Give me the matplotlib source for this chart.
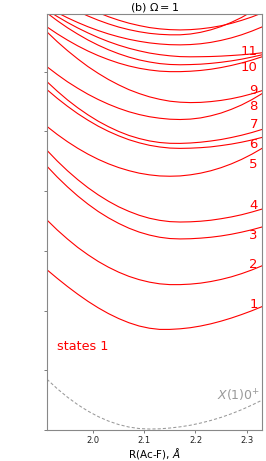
import matplotlib
matplotlib.use("Agg")
import matplotlib.pyplot as plt

# R(Ac-F) grid (Angstrom)
R = [1.91, 1.93, 1.95, 1.97, 1.99, 2.01, 2.03, 2.05, 2.07, 2.09, 2.11,
     2.13, 2.15, 2.17, 2.19, 2.21, 2.23, 2.25, 2.27, 2.29, 2.31, 2.33]

# energies (arbitrary units, tick spacing = 60)
ground_X = [51.0, 41.5, 33.0, 25.5, 19.0, 13.5, 9.0, 5.5, 3.0, 1.5, 1.0,
            1.2, 2.0, 3.2, 4.8, 7.0, 9.6, 12.7, 16.3, 20.4, 25.0, 30.0]
state_1 = [161.0, 152.4, 144.2, 136.5, 129.3, 122.8, 117.0, 112.0, 107.8, 104.5, 102.3,
           101.1, 101.1, 101.7, 102.8, 104.5, 106.7, 109.4, 112.5, 116.0, 119.8, 124.0]
state_2 = [211.0, 201.0, 191.9, 183.5, 176.1, 169.4, 163.6, 158.6, 154.4, 151.1, 148.6,
           146.9, 146.1, 146.1, 146.6, 147.6, 149.2, 151.3, 153.9, 157.1, 160.8, 165.0]
state_3 = [265.0, 254.2, 244.3, 235.2, 227.0, 219.6, 213.2, 207.6, 202.8, 198.9, 195.9,
           193.7, 192.4, 192.0, 192.2, 192.8, 193.7, 195.0, 196.7, 198.8, 201.2, 204.0]
state_4 = [281.0, 270.3, 260.5, 251.6, 243.5, 236.3, 229.9, 224.3, 219.7, 215.8, 212.8,
           210.7, 209.4, 209.0, 209.2, 209.8, 210.8, 212.3, 214.1, 216.3, 219.0, 222.0]
state_5 = [305.0, 297.0, 289.7, 283.1, 277.2, 272.0, 267.5, 263.7, 260.6, 258.1, 256.4,
           255.3, 255.0, 255.3, 256.4, 258.1, 260.5, 263.6, 267.4, 271.9, 277.1, 283.0]
state_6 = [342.0, 333.3, 325.3, 317.9, 311.3, 305.3, 300.1, 295.6, 291.7, 288.6, 286.1,
           284.4, 283.3, 283.0, 283.2, 283.7, 284.5, 285.8, 287.3, 289.2, 291.4, 294.0]
state_7 = [350.0, 340.5, 331.7, 323.8, 316.7, 310.3, 304.8, 300.0, 296.0, 292.9, 290.5,
           288.9, 288.1, 288.0, 288.4, 289.2, 290.4, 291.9, 293.9, 296.2, 298.9, 302.0]
state_8 = [365.0, 357.2, 349.9, 343.4, 337.4, 332.1, 327.4, 323.3, 319.8, 317.0, 314.8,
           313.3, 312.3, 312.0, 312.4, 313.6, 315.7, 318.5, 322.2, 326.6, 331.9, 338.0]
state_9 = [400.0, 390.2, 381.2, 372.9, 365.2, 358.4, 352.2, 346.8, 342.0, 338.1, 334.8,
           332.3, 330.4, 329.4, 329.0, 329.2, 330.0, 331.2, 332.9, 335.1, 337.8, 341.0]
state_10 = [405.0, 398.1, 391.8, 386.0, 380.8, 376.2, 372.2, 368.7, 365.8, 363.5, 361.8,
            360.6, 360.1, 360.1, 360.5, 361.3, 362.5, 364.2, 366.3, 368.8, 371.7, 375.0]
state_11 = [419.0, 411.3, 404.2, 397.8, 391.9, 386.7, 382.1, 378.1, 374.7, 371.9, 369.8,
            368.2, 367.3, 367.0, 367.2, 367.6, 368.4, 369.5, 370.9, 372.6, 374.7, 377.0]
state_12 = [422.0, 415.5, 409.5, 404.0, 399.0, 394.4, 390.3, 386.7, 383.6, 381.0, 378.8,
            377.2, 376.0, 375.2, 375.0, 375.1, 375.3, 375.7, 376.3, 377.0, 377.9, 379.0]
state_13 = [425.0, 419.4, 414.2, 409.5, 405.2, 401.4, 398.0, 395.1, 392.6, 390.6, 389.0,
            387.9, 387.2, 387.0, 387.3, 388.1, 389.5, 391.5, 394.0, 397.1, 400.8, 405.0]
state_14 = [438.0, 431.7, 425.9, 420.7, 416.0, 411.8, 408.1, 404.9, 402.3, 400.2, 398.6,
            397.6, 397.1, 397.1, 397.9, 399.6, 402.1, 405.4, 409.6, 414.5, 420.4, 427.0]
state_15 = [448.0, 441.2, 434.9, 429.2, 424.0, 419.4, 415.3, 411.8, 408.8, 406.4, 404.4,
            403.1, 402.3, 402.0, 402.3, 403.1, 404.4, 406.2, 408.6, 411.6, 415.0, 419.0]

excited = [state_1, state_2, state_3, state_4, state_5, state_6, state_7,
           state_8, state_9, state_10, state_11, state_12, state_13,
           state_14, state_15]

state_labels = ["1", "2", "3", "4", "5", "6", "7", "8", "9", "10", "11"]
label_y = [123, 163, 192, 222, 263, 283, 303, 322, 338, 361, 377]

xticks = [2.0, 2.1, 2.2, 2.3]
yticks = [0, 60, 120, 180, 240, 300, 360]

fig = plt.figure(figsize=(2.66, 4.61), dpi=100)
ax = fig.add_axes([0.1767, 0.0672, 0.8083, 0.9024])

for e in excited:
    ax.plot(R, e, color="#ff0000", lw=0.8)

ax.plot(R, ground_X, color="#999999", lw=0.75, ls=(0, (3, 2)))

for lab, yy in zip(state_labels, label_y):
    ax.text(2.322, yy, lab, color="#ff0000", fontsize=9.5, ha="right", va="baseline")

ax.text(1.93, 80, "states 1", color="#ff0000", fontsize=9.2, ha="left", va="baseline")
ax.text(2.327, 30, r"$X(1)0^{+}$", color="#999999", fontsize=9, ha="right", va="baseline")

ax.set_xlim(1.91, 2.33)
ax.set_ylim(0, 418)
ax.set_xticks(xticks)
ax.set_xticklabels([f"{t:.1f}" for t in xticks], fontsize=6)
ax.set_yticks(yticks)
ax.set_yticklabels([])
ax.tick_params(axis="both", colors="#666666", length=2.5, width=0.6, pad=1.5)
ax.tick_params(axis="x", labelcolor="#222222")
for s in ax.spines.values():
    s.set_color("#888888")
    s.set_linewidth(0.8)

ax.set_xlabel(r"R(Ac-F), $\AA$", fontsize=7.5, labelpad=1)
ax.set_title(r"(b) $\Omega = 1$", fontsize=8, pad=2)

fig.savefig("out.png", dpi=100)
